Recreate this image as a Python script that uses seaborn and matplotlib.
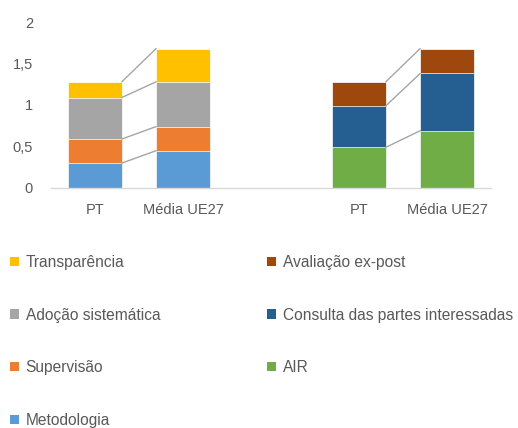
import matplotlib
matplotlib.use("Agg")
import matplotlib.pyplot as plt
import seaborn as sns
import pandas as pd
from matplotlib.patches import Patch

# ---- data ----
slots = ["PT_1", "UE_1", "gap", "PT_2", "UE_2"]
slot_labels = ["PT", "Média UE27", "", "PT", "Média UE27"]

left_series = ["Metodologia", "Supervisão", "Adoção sistemática", "Transparência"]
left_pt = [0.30, 0.29, 0.50, 0.19]
left_ue = [0.45, 0.29, 0.54, 0.40]

right_series = ["AIR", "Consulta das partes interessadas", "Avaliação ex-post"]
right_pt = [0.49, 0.50, 0.29]
right_ue = [0.69, 0.69, 0.30]

colors = {
    "Metodologia": "#5B9BD5",
    "Supervisão": "#ED7D31",
    "Adoção sistemática": "#A5A5A5",
    "Transparência": "#FFC000",
    "AIR": "#70AD47",
    "Consulta das partes interessadas": "#255E91",
    "Avaliação ex-post": "#9E480E",
}

yticks = [0, 0.5, 1, 1.5, 2]
ytick_labels = ["0", "0,5", "1", "1,5", "2"]

# ---- build table ----
groups = [
    (left_series, ("PT_1", left_pt), ("UE_1", left_ue)),
    (right_series, ("PT_2", right_pt), ("UE_2", right_ue)),
]
rows = []
for series, *bars in groups:
    for slot, vals in bars:
        cum = 0.0
        for lvl, (s, v) in enumerate(zip(series, vals)):
            cum += v
            rows.append(dict(slot=slot, series=s, value=v, cum=cum, level=lvl))
df = pd.DataFrame(rows)

sns.set_theme(style="white")
plt.rcParams["font.family"] = ["Liberation Sans", "DejaVu Sans"]
TXT = "#595959"

fig = plt.figure(figsize=(5.18, 4.28), dpi=100)
ax = fig.add_axes([51 / 518, 1 - 188 / 428, 440 / 518, 166 / 428])

W = 0.61
for series, *_ in groups:
    for s in reversed(series):
        sub = df[df.series == s]
        sns.barplot(data=sub, x="slot", y="cum", order=slots, color=colors[s],
                    width=W, errorbar=None, saturation=1, ax=ax,
                    edgecolor="white", linewidth=0.5)

# connector lines
for (series, (pt_slot, _), (ue_slot, _)) in groups:
    x0 = slots.index(pt_slot) + W / 2
    x1 = slots.index(ue_slot) - W / 2
    for s in series:
        y0 = df[(df.slot == pt_slot) & (df.series == s)].cum.iloc[0]
        y1 = df[(df.slot == ue_slot) & (df.series == s)].cum.iloc[0]
        ax.plot([x0, x1], [y0, y1], color="#A5A5A5", lw=1.0, zorder=3)

ax.set_xlim(-0.5, 4.5)
ax.set_ylim(0, 2)
ax.set_xticks(range(len(slots)))
ax.set_xticklabels(slot_labels)
ax.set_yticks(yticks)
ax.set_yticklabels(ytick_labels)
ax.set_xlabel("")
ax.set_ylabel("")
ax.tick_params(axis="both", length=0, labelsize=10.5, colors=TXT)
ax.tick_params(axis="y", pad=13)
ax.tick_params(axis="x", pad=11)
for sp in ["top", "right", "left"]:
    ax.spines[sp].set_visible(False)
ax.spines["bottom"].set_color("#D9D9D9")
ax.spines["bottom"].set_linewidth(1)

# legends
def make_legend(names, x):
    handles = [Patch(facecolor=colors[n], edgecolor="none") for n in names]
    leg = fig.legend(handles, names, loc="upper left",
                     bbox_to_anchor=(x / 518, 1 - 255 / 428),
                     frameon=False, fontsize=11.2, labelcolor=TXT,
                     handlelength=0.55, handleheight=0.55, handletextpad=0.45,
                     labelspacing=2.42, borderpad=0, borderaxespad=0)
    return leg

leg1 = make_legend(["Transparência", "Adoção sistemática", "Supervisão", "Metodologia"], 10)
leg2 = make_legend(["Avaliação ex-post", "Consulta das partes interessadas", "AIR"], 267)

fig.savefig("out.png", dpi=100)
